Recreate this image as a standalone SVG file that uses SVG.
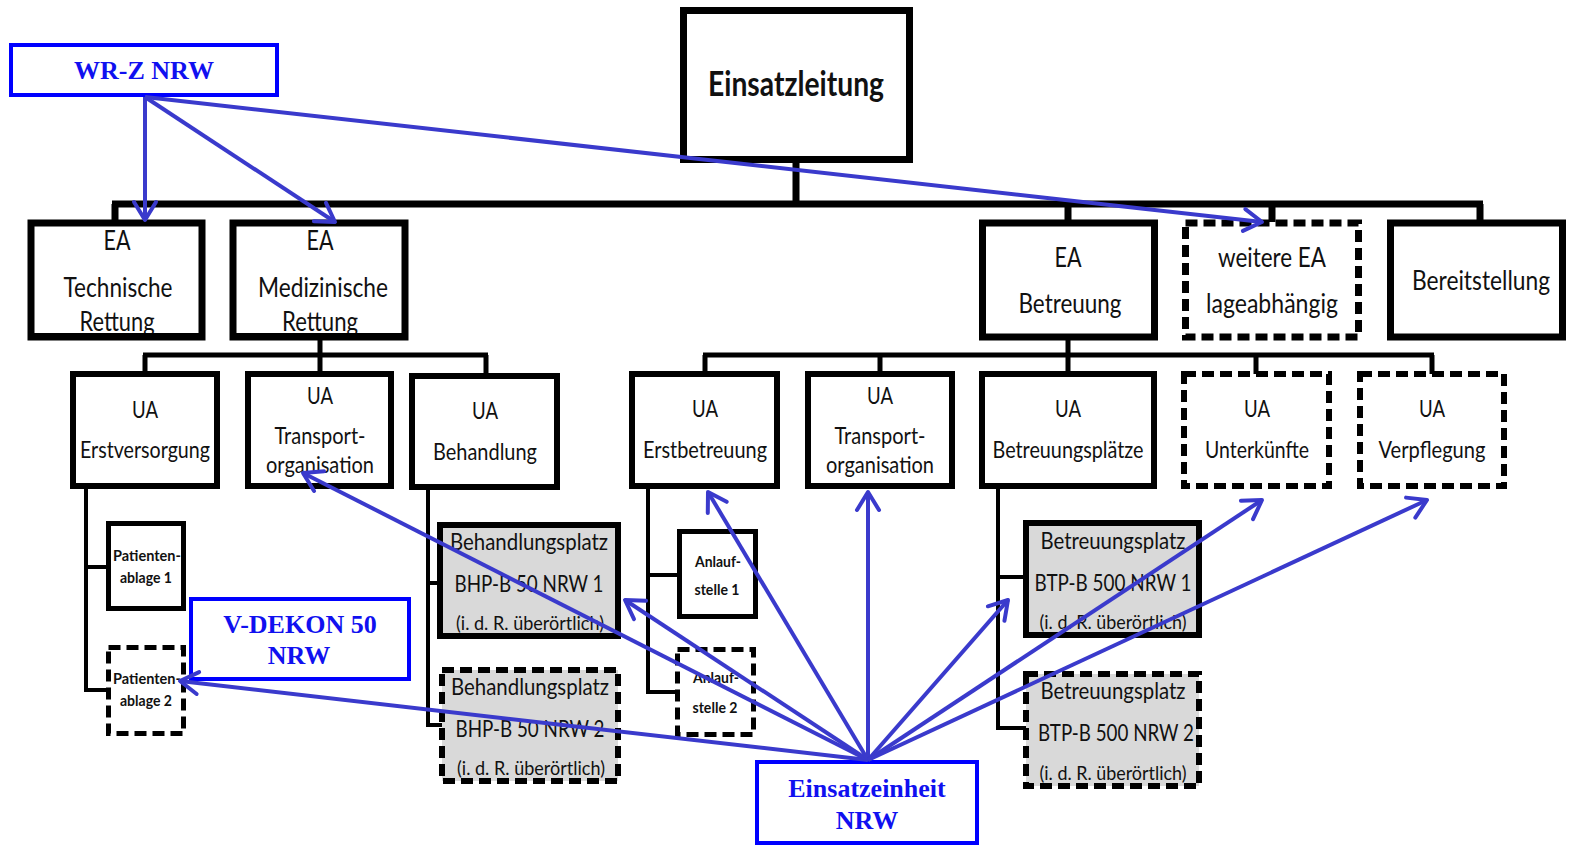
<svg xmlns="http://www.w3.org/2000/svg" width="1586" height="855" viewBox="0 0 1586 855">
<defs>
<style>
.bx{fill:#fff;stroke:#000;stroke-width:7}
.ua{fill:#fff;stroke:#000;stroke-width:6}
.sm{fill:#fff;stroke:#000;stroke-width:5}
.gr{fill:#d9d9d9;stroke:#000;stroke-width:6}
.ds{stroke-dasharray:12 6}
.ln{stroke:#000;fill:none}
.t{font-family:Lato,"Open Sans","Liberation Sans",sans-serif;fill:#111;text-anchor:middle}
.b{font-family:"Liberation Serif","Times New Roman",serif;font-weight:bold;fill:#1010f0;text-anchor:middle;font-size:26px}
.blue{fill:#fff;stroke:#0000ff;stroke-width:4}
.ar{stroke:#3a3acc;stroke-width:4;fill:none;marker-end:url(#ah)}
</style>
<marker id="ah" markerUnits="userSpaceOnUse" markerWidth="26" markerHeight="30" viewBox="-22 -15 26 30" refX="0" refY="0" orient="auto">
<path d="M-18,-11 L0,0 L-18,11" fill="none" stroke="#3a3acc" stroke-width="4" stroke-linecap="round" stroke-linejoin="round"/>
</marker>
</defs>

<g id="connectors">
<path class="ln" stroke-width="7" d="M796,160 V204 M112,204 H1483 M115,204 V222 M1068,204 V222 M1272,204 V222 M1480,204 V222"/>
<path class="ln" stroke-width="5" d="M320,338 V355 M143,355 H488 M145,355 V374 M320,355 V374 M486,355 V376"/>
<path class="ln" stroke-width="5" d="M1068,338 V355 M703,355 H1434 M705,355 V374 M880,355 V374 M1068,355 V374 M1256,355 V374 M1432,355 V374"/>
<path class="ln" stroke-width="4" d="M86,487 V692 M84,567 H108 M84,690 H108"/>
<path class="ln" stroke-width="4" d="M428,488 V727 M426,583 H440 M426,725 H442"/>
<path class="ln" stroke-width="4" d="M648,487 V694 M646,575 H679 M646,692 H677"/>
<path class="ln" stroke-width="4" d="M998,487 V730 M996,577 H1026 M996,728 H1026"/>
</g>

<g id="einsatzleitung">
<rect class="bx" x="683.5" y="10.5" width="226" height="149"/>
<text class="t" x="796" y="96" font-size="34" font-weight="bold" textLength="176" lengthAdjust="spacingAndGlyphs">Einsatzleitung</text>
</g>

<g id="ea-technische-rettung">
<rect class="bx" x="31" y="223" width="171" height="114"/>
<text class="t" x="117" y="250" font-size="27" textLength="27" lengthAdjust="spacingAndGlyphs">EA</text>
<text class="t" x="118" y="297" font-size="27" textLength="109" lengthAdjust="spacingAndGlyphs">Technische</text>
<text class="t" x="117" y="331" font-size="27" textLength="75" lengthAdjust="spacingAndGlyphs">Rettung</text>
<rect x="34" y="333" width="165" height="4" fill="#000"/>
</g>

<g id="ea-medizinische-rettung">
<rect class="bx" x="233" y="223" width="172" height="114"/>
<text class="t" x="320" y="250" font-size="27" textLength="27" lengthAdjust="spacingAndGlyphs">EA</text>
<text class="t" x="323" y="297" font-size="27" textLength="130" lengthAdjust="spacingAndGlyphs">Medizinische</text>
<text class="t" x="320" y="331" font-size="27" textLength="76" lengthAdjust="spacingAndGlyphs">Rettung</text>
<rect x="236" y="333" width="166" height="4" fill="#000"/>
</g>

<g id="ea-betreuung">
<rect class="bx" x="982.5" y="223" width="172" height="114"/>
<text class="t" x="1068" y="267" font-size="27" textLength="27" lengthAdjust="spacingAndGlyphs">EA</text>
<text class="t" x="1070" y="313" font-size="27" textLength="103" lengthAdjust="spacingAndGlyphs">Betreuung</text>
</g>

<g id="weitere-ea">
<rect class="bx ds" x="1185.5" y="223" width="173" height="114"/>
<text class="t" x="1272" y="267" font-size="27" textLength="108" lengthAdjust="spacingAndGlyphs">weitere EA</text>
<text class="t" x="1272" y="313" font-size="27" textLength="132" lengthAdjust="spacingAndGlyphs">lageabhängig</text>
</g>

<g id="bereitstellung">
<rect class="bx" x="1390.5" y="223" width="172" height="114"/>
<text class="t" x="1481" y="290" font-size="27" textLength="138" lengthAdjust="spacingAndGlyphs">Bereitstellung</text>
</g>

<g id="ua-erstversorgung">
<rect class="ua" x="73" y="374" width="144" height="112"/>
<text class="t" x="145" y="418" font-size="24" textLength="26" lengthAdjust="spacingAndGlyphs">UA</text>
<text class="t" x="145" y="458" font-size="24" textLength="130" lengthAdjust="spacingAndGlyphs">Erstversorgung</text>
</g>

<g id="ua-transport-1">
<rect class="ua" x="248" y="374" width="143" height="112"/>
<text class="t" x="320" y="404" font-size="24" textLength="26" lengthAdjust="spacingAndGlyphs">UA</text>
<text class="t" x="320" y="444" font-size="24" textLength="91" lengthAdjust="spacingAndGlyphs">Transport-</text>
<text class="t" x="320" y="473" font-size="24" textLength="108" lengthAdjust="spacingAndGlyphs">organisation</text>
</g>

<g id="ua-behandlung">
<rect class="ua" x="412" y="376" width="145" height="111"/>
<text class="t" x="485" y="419" font-size="24" textLength="26" lengthAdjust="spacingAndGlyphs">UA</text>
<text class="t" x="485" y="460" font-size="24" textLength="104" lengthAdjust="spacingAndGlyphs">Behandlung</text>
</g>

<g id="ua-erstbetreuung">
<rect class="ua" x="632" y="374" width="145" height="112"/>
<text class="t" x="705" y="417" font-size="24" textLength="26" lengthAdjust="spacingAndGlyphs">UA</text>
<text class="t" x="705" y="458" font-size="24" textLength="124" lengthAdjust="spacingAndGlyphs">Erstbetreuung</text>
</g>

<g id="ua-transport-2">
<rect class="ua" x="808" y="374" width="144" height="112"/>
<text class="t" x="880" y="404" font-size="24" textLength="26" lengthAdjust="spacingAndGlyphs">UA</text>
<text class="t" x="880" y="444" font-size="24" textLength="91" lengthAdjust="spacingAndGlyphs">Transport-</text>
<text class="t" x="880" y="473" font-size="24" textLength="108" lengthAdjust="spacingAndGlyphs">organisation</text>
</g>

<g id="ua-betreuungsplaetze">
<rect class="ua" x="982" y="374" width="172" height="112"/>
<text class="t" x="1068" y="417" font-size="24" textLength="26" lengthAdjust="spacingAndGlyphs">UA</text>
<text class="t" x="1068" y="458" font-size="24" textLength="151" lengthAdjust="spacingAndGlyphs">Betreuungsplätze</text>
</g>

<g id="ua-unterkuenfte">
<rect class="ua ds" x="1184" y="374" width="145" height="112"/>
<text class="t" x="1257" y="417" font-size="24" textLength="26" lengthAdjust="spacingAndGlyphs">UA</text>
<text class="t" x="1257" y="458" font-size="24" textLength="104" lengthAdjust="spacingAndGlyphs">Unterkünfte</text>
</g>

<g id="ua-verpflegung">
<rect class="ua ds" x="1360" y="374" width="144" height="112"/>
<text class="t" x="1432" y="417" font-size="24" textLength="26" lengthAdjust="spacingAndGlyphs">UA</text>
<text class="t" x="1432" y="458" font-size="24" textLength="107" lengthAdjust="spacingAndGlyphs">Verpflegung</text>
</g>

<g id="patientenablage-1">
<rect class="sm" x="108.5" y="523.5" width="75" height="85"/>
<text class="t" x="147" y="561" font-size="15" font-weight="bold" textLength="68" lengthAdjust="spacingAndGlyphs">Patienten-</text>
<text class="t" x="146" y="583" font-size="15" font-weight="bold" textLength="52" lengthAdjust="spacingAndGlyphs">ablage 1</text>
</g>

<g id="patientenablage-2">
<rect class="sm ds" x="108.5" y="647.5" width="75" height="86"/>
<text class="t" x="147" y="684" font-size="15" font-weight="bold" textLength="68" lengthAdjust="spacingAndGlyphs">Patienten-</text>
<text class="t" x="146" y="706" font-size="15" font-weight="bold" textLength="52" lengthAdjust="spacingAndGlyphs">ablage 2</text>
</g>

<g id="anlaufstelle-1">
<rect class="sm" x="679.5" y="531.5" width="76" height="85"/>
<text class="t" x="718" y="567" font-size="15" font-weight="bold" textLength="46" lengthAdjust="spacingAndGlyphs">Anlauf-</text>
<text class="t" x="717" y="595" font-size="15" font-weight="bold" textLength="45" lengthAdjust="spacingAndGlyphs">stelle 1</text>
</g>

<g id="anlaufstelle-2">
<rect class="sm ds" x="677.5" y="649.5" width="76" height="85"/>
<text class="t" x="716" y="683" font-size="15" font-weight="bold" textLength="46" lengthAdjust="spacingAndGlyphs">Anlauf-</text>
<text class="t" x="715" y="713" font-size="15" font-weight="bold" textLength="45" lengthAdjust="spacingAndGlyphs">stelle 2</text>
</g>

<g id="bhp-1">
<rect class="gr" x="440" y="525" width="178" height="111"/>
<text class="t" x="529" y="550" font-size="24" textLength="158" lengthAdjust="spacingAndGlyphs">Behandlungsplatz</text>
<text class="t" x="529" y="592" font-size="24" textLength="149" lengthAdjust="spacingAndGlyphs">BHP-B 50 NRW 1</text>
<text class="t" x="530" y="630" font-size="20" textLength="148" lengthAdjust="spacingAndGlyphs">(i. d. R. überörtlich)</text>
</g>

<g id="bhp-2">
<rect class="gr ds" x="442" y="670" width="176" height="111"/>
<text class="t" x="530" y="695" font-size="24" textLength="158" lengthAdjust="spacingAndGlyphs">Behandlungsplatz</text>
<text class="t" x="530" y="737" font-size="24" textLength="149" lengthAdjust="spacingAndGlyphs">BHP-B 50 NRW 2</text>
<text class="t" x="531" y="775" font-size="20" textLength="148" lengthAdjust="spacingAndGlyphs">(i. d. R. überörtlich)</text>
</g>

<g id="btp-1">
<rect class="gr" x="1026" y="523" width="173" height="112"/>
<text class="t" x="1113" y="549" font-size="24" textLength="145" lengthAdjust="spacingAndGlyphs">Betreuungsplatz</text>
<text class="t" x="1113" y="591" font-size="24" textLength="157" lengthAdjust="spacingAndGlyphs">BTP-B 500 NRW 1</text>
<text class="t" x="1113" y="629" font-size="20" textLength="147" lengthAdjust="spacingAndGlyphs">(i. d. R. überörtlich)</text>
</g>

<g id="btp-2">
<rect class="gr ds" x="1026" y="674" width="173" height="112"/>
<text class="t" x="1113" y="699" font-size="24" textLength="145" lengthAdjust="spacingAndGlyphs">Betreuungsplatz</text>
<text class="t" x="1116" y="741" font-size="24" textLength="156" lengthAdjust="spacingAndGlyphs">BTP-B 500 NRW 2</text>
<text class="t" x="1113" y="780" font-size="20" textLength="147" lengthAdjust="spacingAndGlyphs">(i. d. R. überörtlich)</text>
</g>

<g id="wr-z-nrw">
<rect class="blue" x="11" y="45" width="266" height="50"/>
<text class="b" x="144" y="79">WR-Z NRW</text>
</g>

<g id="v-dekon-50-nrw">
<rect class="blue" x="191" y="599" width="218" height="80"/>
<text class="b" x="300" y="633">V-DEKON 50</text>
<text class="b" x="299" y="664">NRW</text>
</g>

<g id="einsatzeinheit-nrw">
<rect class="blue" x="757" y="762" width="220" height="81"/>
<text class="b" x="867" y="797">Einsatzeinheit</text>
<text class="b" x="867" y="829">NRW</text>
</g>

<g id="arrows">
<line class="ar" x1="145" y1="97" x2="145" y2="220"/>
<line class="ar" x1="145" y1="97" x2="335" y2="222"/>
<line class="ar" x1="145" y1="97" x2="1262" y2="222"/>
<line class="ar" x1="868" y1="760" x2="180" y2="681"/>
<line class="ar" x1="868" y1="760" x2="303" y2="473"/>
<line class="ar" x1="868" y1="760" x2="625" y2="600"/>
<line class="ar" x1="868" y1="760" x2="708" y2="492"/>
<line class="ar" x1="868" y1="760" x2="868" y2="492"/>
<line class="ar" x1="868" y1="760" x2="1008" y2="600"/>
<line class="ar" x1="868" y1="760" x2="1262" y2="500"/>
<line class="ar" x1="868" y1="760" x2="1427" y2="500"/>
</g>
</svg>
